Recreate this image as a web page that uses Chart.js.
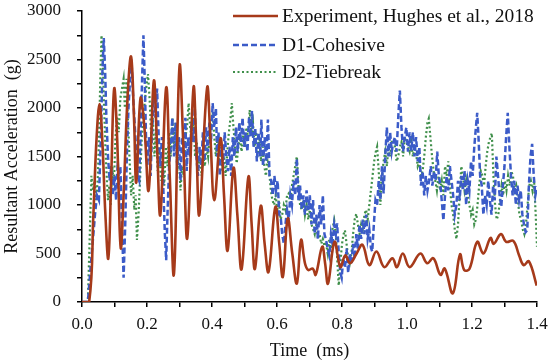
<!DOCTYPE html>
<html>
<head>
<meta charset="utf-8">
<script src="https://cdn.jsdelivr.net/npm/chart.js@4.4.1/dist/chart.umd.min.js"></script>
<style>
html,body{margin:0;padding:0;background:#fff;}
#wrap{width:550px;height:362px;position:relative;}
</style>
</head>
<body>
<div id="wrap"><canvas id="c" width="550" height="362"></canvas></div>
<script>
const seriesNames = ["Experiment, Hughes et al., 2018", "D1-Cohesive", "D2-Tiebreak"];
const xTitle = "Time  (ms)";
const yTitle = "Resultant Acceleration  (g)";

const expT = [0,0.022,0.035,0.045,0.054,0.062,0.072,0.081,0.090,0.099,0.108,0.119,0.128,0.140,0.151,0.160,0.167,0.180,0.192,0.205,0.221,0.231,0.241,0.259,0.270,0.283,0.300,0.312,0.324,0.343,0.352,0.361,0.385,0.395,0.407,0.426,0.437,0.448,0.466,0.478,0.491,0.512,0.522,0.532,0.550,0.562,0.574,0.595,0.607,0.618,0.633,0.647,0.661,0.674,0.686,0.696,0.710,0.719,0.739,0.748,0.757,0.777,0.795,0.810,0.825,0.845,0.863,0.884,0.906,0.930,0.955,0.969,0.987,1.008,1.041,1.062,1.081,1.103,1.116,1.141,1.163,1.176,1.192,1.216,1.235,1.257,1.267,1.289,1.305,1.327,1.345,1.359,1.375,1.399];
const expV = [0,0,900,1700,2040,1700,900,450,1300,2200,1700,560,1100,2100,2530,1900,1230,2100,1800,1150,2280,1600,900,2210,1300,290,2430,1600,660,2210,1600,900,2210,1700,1050,1690,1100,530,1380,900,340,1290,800,340,990,600,310,980,600,260,860,500,190,640,400,330,345,280,570,400,190,620,360,480,400,500,590,380,520,360,450,360,500,360,500,400,450,280,345,90,490,330,340,620,500,660,600,700,620,630,480,380,420,170];

const d1T = [0,0.018,0.030,0.040,0.046,0.052,0.058,0.063,0.067,0.071,0.075,0.080,0.085,0.090,0.095,0.100,0.105,0.110,0.114,0.118,0.122,0.128,0.133,0.138,0.143,0.148,0.152,0.156,0.161,0.166,0.171,0.176,0.180,0.185,0.189,0.193,0.197,0.201,0.206,0.211,0.216,0.221,0.226,0.231,0.236,0.241,0.246,0.250,0.255,0.259,0.263,0.268,0.273,0.278,0.283,0.288,0.293,0.298,0.303,0.308,0.313,0.318,0.322,0.327,0.332,0.337,0.342,0.347,0.352,0.357,0.362,0.367,0.372,0.377,0.382,0.387,0.392,0.397,0.402,0.407,0.412,0.416,0.420,0.424,0.429,0.434,0.439,0.444,0.449,0.454,0.459,0.464,0.469,0.474,0.479,0.484,0.489,0.494,0.499,0.504,0.509,0.514,0.519,0.523,0.528,0.533,0.538,0.543,0.548,0.552,0.557,0.562,0.567,0.572,0.577,0.582,0.587,0.592,0.597,0.602,0.607,0.612,0.616,0.621,0.626,0.631,0.636,0.641,0.646,0.651,0.656,0.661,0.666,0.671,0.676,0.681,0.686,0.691,0.696,0.701,0.706,0.711,0.716,0.721,0.726,0.731,0.736,0.741,0.746,0.751,0.756,0.761,0.766,0.771,0.776,0.781,0.785,0.790,0.795,0.799,0.804,0.809,0.814,0.819,0.824,0.829,0.834,0.839,0.844,0.849,0.854,0.859,0.864,0.869,0.874,0.879,0.884,0.889,0.893,0.898,0.903,0.908,0.913,0.918,0.923,0.928,0.933,0.938,0.943,0.948,0.953,0.958,0.963,0.968,0.973,0.978,0.983,0.988,0.993,0.998,1.003,1.008,1.013,1.018,1.023,1.028,1.033,1.038,1.043,1.048,1.053,1.058,1.063,1.068,1.073,1.078,1.083,1.088,1.093,1.098,1.103,1.108,1.112,1.117,1.122,1.127,1.132,1.137,1.142,1.147,1.152,1.157,1.162,1.167,1.172,1.177,1.182,1.187,1.192,1.197,1.202,1.207,1.212,1.216,1.220,1.225,1.230,1.235,1.240,1.245,1.250,1.255,1.260,1.265,1.270,1.275,1.280,1.285,1.290,1.295,1.300,1.305,1.310,1.315,1.320,1.325,1.330,1.335,1.340,1.345,1.350,1.355,1.360,1.365,1.370,1.375,1.380,1.385,1.390,1.395,1.400];
const d1V = [0,0,500,900,1100,1050,1700,2400,2720,2400,1900,1500,1250,1400,1100,1300,1050,1450,1200,1400,900,250,800,1500,2000,2300,2500,2200,1900,1600,1300,1250,1700,2300,2750,2300,1700,1400,1700,1300,1800,2150,1900,2200,1700,1400,1700,1200,700,430,900,1400,1600,1900,1500,1850,1400,1700,1250,1700,1500,1900,1350,1700,1500,1850,1650,2000,1500,1300,1600,1400,1750,1450,1800,1550,1850,1650,2050,1800,2000,1500,1750,1300,1600,1400,1750,1500,1350,1600,1300,1700,1500,1800,1550,1850,1650,1900,1600,1750,1550,1900,1700,1970,1600,1800,1450,1750,1500,1880,1400,1700,1450,1880,1300,1250,1100,1300,1150,1250,900,850,700,600,800,950,850,1100,1000,1250,1100,1480,1050,1200,950,1100,900,1150,950,1100,800,1050,700,900,650,1000,800,1100,700,640,550,480,700,600,800,700,810,500,300,250,450,350,550,300,500,400,600,450,700,550,800,650,850,700,900,650,750,560,520,800,1050,1000,1250,1050,1400,1120,1500,1800,1500,1750,1550,1650,1700,1550,1900,2180,1800,1550,1700,1800,1550,1750,1560,1750,1500,1700,1450,1600,1200,1350,1100,1300,1150,1250,1400,1200,1350,1250,1550,1300,1200,1000,840,1100,1300,1150,1400,1250,1100,900,1000,1250,1050,1300,1150,1350,1000,1250,1150,1450,1300,1600,1800,1950,1700,1300,1200,900,1100,1000,1250,1050,900,1200,1050,1500,1300,1100,980,1200,1400,1700,1950,1600,1300,1100,1250,1000,1200,1050,1150,900,800,720,740,1200,1500,1630,1300,1100,1190];

const d2T = [0,0.018,0.024,0.029,0.034,0.039,0.044,0.049,0.053,0.057,0.060,0.064,0.068,0.072,0.076,0.080,0.084,0.088,0.093,0.098,0.103,0.108,0.113,0.118,0.123,0.128,0.132,0.137,0.141,0.146,0.151,0.156,0.161,0.165,0.169,0.174,0.179,0.184,0.189,0.194,0.199,0.203,0.208,0.213,0.218,0.223,0.228,0.233,0.238,0.243,0.248,0.253,0.258,0.263,0.268,0.273,0.278,0.283,0.288,0.293,0.298,0.303,0.308,0.313,0.318,0.323,0.328,0.333,0.338,0.343,0.348,0.353,0.358,0.363,0.368,0.373,0.378,0.383,0.388,0.393,0.398,0.402,0.407,0.412,0.417,0.422,0.427,0.432,0.437,0.442,0.447,0.452,0.457,0.461,0.466,0.471,0.476,0.481,0.486,0.491,0.496,0.501,0.506,0.511,0.516,0.521,0.526,0.531,0.536,0.541,0.546,0.551,0.556,0.561,0.566,0.571,0.576,0.581,0.586,0.591,0.596,0.601,0.606,0.611,0.616,0.621,0.626,0.631,0.636,0.641,0.646,0.651,0.656,0.661,0.666,0.671,0.676,0.681,0.686,0.691,0.696,0.701,0.706,0.711,0.716,0.721,0.726,0.731,0.736,0.741,0.746,0.751,0.756,0.761,0.766,0.771,0.776,0.781,0.786,0.790,0.795,0.800,0.805,0.809,0.814,0.819,0.824,0.829,0.834,0.839,0.844,0.849,0.854,0.859,0.864,0.869,0.874,0.879,0.884,0.889,0.894,0.899,0.904,0.908,0.913,0.918,0.923,0.928,0.933,0.938,0.943,0.948,0.953,0.958,0.963,0.968,0.973,0.978,0.983,0.988,0.993,0.998,1.003,1.008,1.013,1.018,1.023,1.028,1.033,1.038,1.043,1.048,1.053,1.058,1.063,1.067,1.072,1.077,1.082,1.087,1.092,1.097,1.102,1.107,1.112,1.117,1.122,1.127,1.132,1.137,1.142,1.147,1.152,1.157,1.162,1.167,1.172,1.177,1.182,1.187,1.192,1.197,1.202,1.207,1.212,1.217,1.222,1.227,1.232,1.237,1.242,1.247,1.252,1.257,1.261,1.266,1.271,1.276,1.281,1.286,1.291,1.296,1.301,1.306,1.311,1.316,1.321,1.326,1.331,1.336,1.341,1.346,1.351,1.356,1.361,1.366,1.371,1.376,1.381,1.386,1.391,1.396,1.400];
const d2V = [0,0,700,1300,1150,1250,1050,1300,1800,2400,2750,2500,2000,1600,1300,1050,1200,1000,1400,1200,1700,1900,1750,2100,2200,2300,2000,2300,1900,1500,1100,1300,950,1100,640,900,1300,1700,1900,2100,2250,2350,2100,1700,1900,1500,1800,1350,1600,1250,1500,1200,1600,1400,1750,1500,1900,1600,1850,1350,1500,1150,1400,1300,1700,1800,2050,1800,1650,1900,1500,1650,1350,1550,1300,1500,1400,1600,1500,1750,1850,1960,1700,1500,1700,1400,1600,1350,1500,1300,1550,1750,1900,2050,1800,1600,1430,1600,1700,1550,1750,1600,1800,1700,1980,1750,1850,1600,1750,1500,1700,1450,1600,1400,1300,1500,1350,1150,1050,1000,1100,950,1050,850,900,1000,950,1100,1120,1000,1200,1300,1400,1500,1200,1000,950,1050,900,1000,850,950,800,750,700,800,650,700,600,650,580,600,500,650,550,760,840,700,400,170,400,600,700,740,600,450,400,500,700,850,910,800,700,800,750,900,950,850,1000,1150,1300,1450,1550,1600,1350,1000,1300,1450,1550,1400,1600,1500,1650,1670,1600,1450,1500,1600,1650,1500,1700,1650,1600,1550,1650,1500,1600,1530,1400,1450,1300,1350,1500,1700,1850,1890,1700,1500,1350,1250,1150,1300,1150,1250,1100,1400,1300,1450,1200,1000,900,750,650,800,1100,1400,1300,1150,1250,1100,1000,900,950,800,850,1000,1200,1350,1300,1200,1400,1550,1650,1700,1740,1300,1000,850,900,1050,1200,1100,1250,1150,1300,1200,1350,1300,1150,1200,1050,900,850,750,700,800,1000,1200,1250,1150,1250,900,570];

const xTickMin = 0, xTickMax = 1.4, xStep = 0.1;
const yTickMin = 0, yTickMax = 3000, yStep = 250;

const colors = ["#A63A1A", "#3B5BC8", "#3F8F4A"];
const FONT = "'Liberation Serif', 'Times New Roman', serif";

function pts(t, v){ return t.map((x,i)=>({x:x, y:v[i]})); }

const legendPlugin = {
  id:'customLegend',
  afterDraw(chart){
    const ctx = chart.ctx;
    const rows = [16, 45, 72];
    const dashes = [[], [6,3], [2,2.5]];
    const widths = [2.6, 2.4, 2.2];
    ctx.save();
    ctx.font = "19.5px " + FONT;
    ctx.textBaseline = 'middle';
    ctx.textAlign = 'left';
    for (let i=0;i<3;i++){
      ctx.strokeStyle = colors[i];
      ctx.lineWidth = widths[i];
      ctx.setLineDash(dashes[i]);
      ctx.beginPath();
      ctx.moveTo(233, rows[i]);
      ctx.lineTo(278, rows[i]);
      ctx.stroke();
      ctx.setLineDash([]);
      ctx.fillStyle = '#111';
      ctx.fillText(seriesNames[i], 282, rows[i]+1);
    }
    ctx.restore();
  }
};

new Chart(document.getElementById('c'), {
  type:'line',
  data:{
    datasets:[
      {label:seriesNames[0], data:pts(expT,expV), borderColor:colors[0], borderWidth:2.6, pointRadius:0, tension:0.4, fill:false},
      {label:seriesNames[1], data:pts(d1T,d1V), borderColor:colors[1], borderWidth:2.5, borderDash:[6,3], pointRadius:0, tension:0, fill:false},
      {label:seriesNames[2], data:pts(d2T,d2V), borderColor:colors[2], borderWidth:2.2, borderDash:[2,2.5], pointRadius:0, tension:0, fill:false}
    ]
  },
  options:{
    responsive:false,
    animation:false,
    layout:{padding:{left:0, right:13, top:11, bottom:0}},
    plugins:{legend:{display:false}, tooltip:{enabled:false}},
    scales:{
      x:{
        type:'linear', min:xTickMin, max:xTickMax,
        afterFit(s){ s.height = 60; s.paddingLeft = 0; s.paddingRight = 0; },
        border:{display:true, color:'#000', width:1.5},
        grid:{drawOnChartArea:false, drawTicks:true, tickLength:5, color:'#000', lineWidth:1.5},
        ticks:{stepSize:xStep, autoSkip:false, maxRotation:0, padding:7, color:'#111', font:{family:FONT, size:17},
          callback(v){ const k=Math.round(v*10); return (k%2===0) ? (k/10).toFixed(1) : ''; }},
        title:{display:true, text:xTitle, color:'#111', font:{family:FONT, size:18}, padding:{top:0,bottom:0}}
      },
      y:{
        min:yTickMin, max:yTickMax,
        afterFit(s){ s.width = 82; s.paddingTop = 0; s.paddingBottom = 0; },
        border:{display:true, color:'#000', width:1.5},
        grid:{drawOnChartArea:false, drawTicks:true, tickLength:5, color:'#000', lineWidth:1.5},
        ticks:{stepSize:yStep, autoSkip:false, padding:16, color:'#111', font:{family:FONT, size:17},
          callback(v){ return (Math.round(v)%500===0) ? String(Math.round(v)) : ''; }},
        title:{display:true, text:yTitle, color:'#111', font:{family:FONT, size:18}, padding:{top:1,bottom:0}}
      }
    }
  },
  plugins:[legendPlugin]
});
</script>
</body>
</html>
